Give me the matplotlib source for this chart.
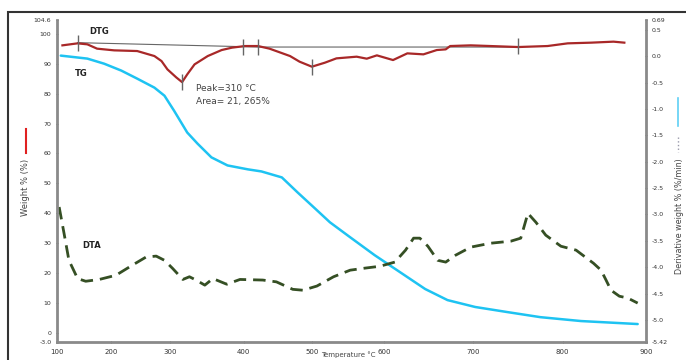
import numpy as np
import matplotlib
matplotlib.use("Agg")
import matplotlib.pyplot as plt
from matplotlib.patches import Rectangle
from matplotlib.lines import Line2D

# ---------------- data ----------------
tg_T = [107, 156, 187, 217, 244, 273, 290, 305, 323, 337, 356, 378, 406, 426, 456,
        479, 504, 525, 553, 587, 618, 646, 671, 702, 738, 775, 822, 890]
tg_w = [92.7, 91.7, 90.0, 87.7, 85.0, 82.0, 79.3, 74.3, 67.0, 63.3, 58.7, 56.0, 54.7,
        54.0, 52.0, 47.0, 41.7, 37.0, 32.0, 26.0, 20.3, 14.7, 11.0, 8.7, 7.0, 5.3, 4.0, 3.0]

dtg_T = [110, 138, 156, 174, 205, 244, 273, 285, 295, 308, 316, 323, 333, 351, 370,
         384, 402, 421, 438, 468, 482, 500, 518, 534, 562, 576, 590, 610, 626, 644,
         659, 669, 674, 697, 719, 750, 783, 806, 834, 861, 874]
dtg_v = [0.209, 0.247, 0.228, 0.146, 0.114, 0.101, 0.006, -0.089, -0.247, -0.399,
         -0.489, -0.342, -0.152, 0.006, 0.120, 0.165, 0.196, 0.196, 0.146, 0.006,
         -0.101, -0.196, -0.120, -0.038, -0.006, -0.044, 0.019, -0.070, 0.057, 0.038,
         0.120, 0.133, 0.196, 0.209, 0.196, 0.177, 0.196, 0.247, 0.260, 0.279, 0.260]

base_T = [138, 399, 421, 750]
base_v = [0.260, 0.184, 0.177, 0.177]
mark_T = [138, 316, 399, 421, 500, 750]
mark_v = [0.247, -0.485, 0.170, 0.170, -0.210, 0.190]

dta_T = [104, 113, 122, 138, 153, 178, 208, 236, 259, 276, 290, 303, 317, 326, 335,
         347, 358, 377, 395, 428, 448, 472, 487, 507, 530, 553, 574, 594, 612, 624,
         633, 640, 649, 660, 669, 680, 697, 719, 742, 753, 761, 770, 781, 798, 816,
         837, 846, 852, 858, 868, 878, 890]
dta_w = [42.1, 33.3, 24.3, 18.2, 17.3, 17.9, 19.3, 22.7, 25.4, 25.7, 24.3, 21.6, 17.9,
         18.8, 17.7, 16.0, 18.2, 16.3, 17.9, 17.7, 17.1, 14.6, 14.3, 15.7, 18.8, 21.0,
         21.7, 22.3, 23.7, 27.7, 31.7, 31.7, 29.0, 24.3, 23.7, 26.0, 28.7, 30.0, 30.7,
         31.7, 40.0, 37.0, 32.7, 29.0, 27.7, 23.3, 21.0, 17.7, 14.3, 12.3, 11.7, 10.0]

x_ticks = [100, 200, 300, 400, 500, 600, 700, 800, 900]
left_ticks = [0, 10, 20, 30, 40, 50, 60, 70, 80, 90, 100]
right_ticks = [0.5, 0.0, -0.5, -1.0, -1.5, -2.0, -2.5, -3.0, -3.5, -4.0, -4.5, -5.0]

# ---------------- layout: non-uniform temperature axis of the original ----------------
KT = np.array([0, 100, 200, 300, 400, 500, 600, 700, 800, 900, 1000], float)
KP = np.array([4, 58, 112, 171, 244, 312, 384, 473, 562, 645, 728], float)
fwd = lambda t: np.interp(t, KT, KP)
inv = lambda p: np.interp(p, KP, KT)

W, H = 686, 360
fig = plt.figure(figsize=(W / 100, H / 100), dpi=100)
ax = fig.add_axes([57 / W, 18 / H, (646 - 57) / W, (342 - 20) / H])
ax.set_xscale('function', functions=(fwd, inv))
ax.set_xlim(100, 900)
ax.set_ylim(-3.0, 104.6)
ax2 = ax.twinx()
ax2.set_ylim(-5.42, 0.69)

spine_c = '#8a8a8a'
for a in (ax, ax2):
    for s in a.spines.values():
        s.set_visible(False)
ax.spines['left'].set_visible(True)
ax.spines['bottom'].set_visible(True)
ax2.spines['right'].set_visible(True)
for s in (ax.spines['left'], ax.spines['bottom'], ax2.spines['right']):
    s.set_color(spine_c)
    s.set_linewidth(2)

# curves
ax.plot(tg_T, tg_w, color='#1ec3f2', lw=1.8, solid_capstyle='round', solid_joinstyle='round')
ax.plot(dta_T, dta_w, color='#354f24', lw=2.0, dashes=(4.5, 2.5), dash_joinstyle='round')
ax2.plot(base_T, base_v, color='#666666', lw=0.8)
ax2.plot(dtg_T, dtg_v, color='#a82828', lw=1.6, solid_joinstyle='round')
ax2.plot(mark_T, mark_v, linestyle='none', marker='|', ms=11, mew=1.0, color='#666666')

# ticks
ax.set_xticks(x_ticks)
ax.set_xticklabels([str(t) for t in x_ticks])
ax.set_yticks([-3.0] + left_ticks + [104.6])
ax.set_yticklabels(['-3.0'] + [str(t) for t in left_ticks] + ['104.6'])
ax2.set_yticks([-5.42] + right_ticks + [0.69])
ax2.set_yticklabels(['-5.42'] + ['%.1f' % t for t in right_ticks] + ['0.69'])
for a in (ax, ax2):
    a.tick_params(axis='both', labelsize=4.5, colors='#333333', length=2, width=0.8,
                  direction='inout', pad=3)
ax.tick_params(axis='x', pad=4, labelsize=5)
ax.minorticks_off()

# labels inside the chart
ax.text(178, 100.7, 'DTG', fontsize=6, fontweight='bold', ha='center', va='center', color='#222222')
ax.text(144, 86.8, 'TG', fontsize=6, fontweight='bold', ha='center', va='center', color='#222222')
ax.text(163, 29.3, 'DTA', fontsize=6, fontweight='bold', ha='center', va='center', color='#222222')
ax.text(335, 81.6, 'Peak=310 °C', fontsize=6.5, ha='left', va='center', color='#444444')
ax.text(335, 77.4, 'Area= 21, 265%', fontsize=6.5, ha='left', va='center', color='#444444')

# outer legend marks and axis titles
fig.add_artist(Line2D([26 / W, 26 / W], [1 - 129 / H, 1 - 153 / H], color='#e02020', lw=1.5))
fig.text(26 / W, 1 - 187 / H, 'Weight % (%)', rotation=90, fontsize=6,
         ha='center', va='center', color='#444444')
fig.add_artist(Line2D([678 / W, 678 / W], [1 - 98 / H, 1 - 126 / H], color='#5fd0f5', lw=1.2))
fig.add_artist(Line2D([678 / W, 678 / W], [1 - 137 / H, 1 - 152 / H], color='#9999aa', lw=1.0,
                      linestyle=':'))
fig.text(680 / W, 1 - 216 / H, 'Derivative weight % (%/min)', rotation=90, fontsize=5.8,
         ha='center', va='center', color='#444444')
fig.text(348 / W, 1 - 355 / H, 'Temperature °C', fontsize=5, ha='center', va='center',
         color='#444444')

# outer frame
fig.add_artist(Rectangle((8 / W, -0.05), 1.0, 1 - 12 / H + 0.05, transform=fig.transFigure,
                         fill=False, edgecolor='#333333', lw=1.5))

fig.savefig('out.png', dpi=100)
